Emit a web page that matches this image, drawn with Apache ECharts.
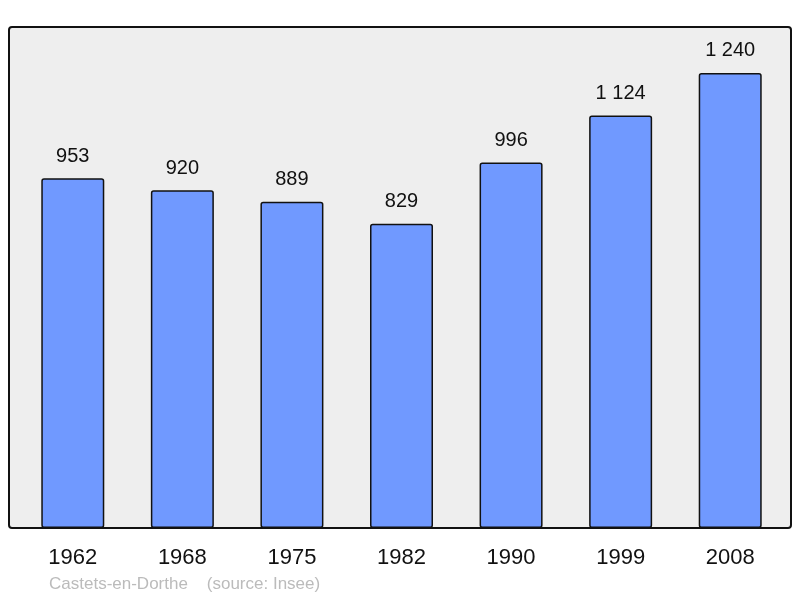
<!DOCTYPE html>
<html>
<head>
<meta charset="utf-8">
<script src="https://cdn.jsdelivr.net/npm/echarts@6/dist/echarts.min.js"></script>
<style>
  html, body { margin: 0; padding: 0; background: #fff; }
  #chart { width: 800px; height: 598px; }
</style>
</head>
<body>
<div id="chart"></div>
<script>
const years = ['1962', '1968', '1975', '1982', '1990', '1999', '2008'];
const population = [953, 920, 889, 829, 996, 1124, 1240];

// format "1 240" style
function fmt(v) {
    return String(v).replace(/\B(?=(\d{3})+(?!\d))/g, ' ');
}

var myChart = echarts.init(document.getElementById('chart'));
myChart.setOption({
    animation: false,
    textStyle: { fontFamily: 'Liberation Sans, Arial, sans-serif' },
    graphic: [
        {
            type: 'rect',
            z: -10,
            shape: { x: 9, y: 27, width: 782, height: 501, r: 3 },
            style: { fill: '#eeeeee', stroke: '#111', lineWidth: 2 }
        },
        {
            type: 'text',
            left: 49,
            top: 576,
            style: {
                text: 'Castets-en-Dorthe    (source: Insee)',
                fill: '#bbbbbb',
                font: '17px Liberation Sans, Arial, sans-serif'
            }
        }
    ],
    grid: { left: 18, right: 15, top: 27, bottom: 70 },
    xAxis: {
        type: 'category',
        data: years,
        axisLine: { show: false },
        axisTick: { show: false },
        axisLabel: { color: '#111', fontSize: 22, margin: 19 }
    },
    yAxis: {
        type: 'value',
        min: 0,
        max: 1365,
        show: false,
        splitLine: { show: false }
    },
    series: [
        {
            type: 'bar',
            data: population,
            barWidth: 63,
            itemStyle: {
                color: '#7099ff',
                borderColor: '#111',
                borderWidth: 1.5,
                borderRadius: 2
            },
            label: {
                show: true,
                position: 'top',
                distance: 12,
                color: '#111',
                fontSize: 20,
                formatter: p => fmt(p.value)
            }
        }
    ]
});
</script>
</body>
</html>
